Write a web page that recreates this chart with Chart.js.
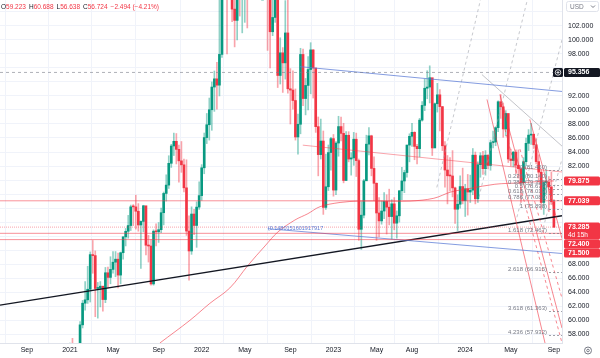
<!DOCTYPE html>
<html>
<head>
<meta charset="utf-8">
<script src="https://cdn.jsdelivr.net/npm/chart.js@4.4.1/dist/chart.umd.min.js"></script>
<style>
  html, body { margin: 0; padding: 0; background: #fff; }
  #wrap { width: 600px; height: 358px; }
</style>
</head>
<body>
<div id="wrap"><canvas id="chart" width="600" height="358"></canvas></div>
<script>
// Weekly candles, week 0 = first week of Jan 2021
const firstOpen = 51.8;
const closes = [
  55.99, 55.10, 55.41, 55.88, 59.34, 62.43, 62.91, 64.42, 69.36, 69.22, 64.53, 64.57, 64.86,
  62.95, 66.77, 66.11, 67.25, 68.28, 68.71, 66.44, 69.63, 71.89, 72.69, 73.51, 76.18, 76.17,
  75.55, 73.59, 74.10, 76.33, 70.70, 70.59, 65.18, 72.70, 72.61, 72.92, 75.34, 78.09, 79.28,
  82.39, 84.86, 85.53, 84.38, 82.74, 82.17, 78.89, 72.72, 69.88, 75.15, 73.52, 76.14, 77.78,
  81.75, 86.06, 87.89, 90.03, 93.27, 94.44, 93.54, 97.93, 118.11, 112.67, 107.93, 120.65, 104.39,
  102.78, 111.70, 106.65, 109.34, 112.39, 111.55, 112.55, 119.43, 119.72, 122.01, 113.12, 113.12,
  111.63, 106.49, 101.16, 103.20, 110.01, 94.92, 98.15, 96.72, 100.99, 93.02, 92.84, 91.35, 86.15,
  87.96, 97.92, 91.63, 93.50, 95.77, 98.57, 95.99, 87.62, 83.63, 85.57, 76.10, 79.04, 83.92, 85.91,
  78.57, 85.28, 87.63, 86.66, 79.94, 86.39, 83.00, 83.16, 85.83, 82.78, 72.97, 74.99, 79.89,
  85.12, 86.31, 81.66, 79.54, 75.30, 74.17, 75.58, 76.95, 76.13, 74.79, 76.61, 73.85, 74.90,
  78.47, 79.87, 81.07, 84.99, 86.24, 86.81, 84.80, 84.48, 88.55, 90.65, 93.10, 93.27, 94.60,
  84.58, 90.89, 92.16, 90.48, 84.89, 81.43, 80.61, 80.58, 78.88, 75.84, 76.55, 79.07, 77.04,
  78.76, 78.29, 78.56, 83.55, 77.33, 82.19, 83.47, 81.62, 83.55, 82.08, 85.34, 85.43, 87.48,
  91.17, 90.45, 87.29, 89.50, 83.00, 82.79, 83.98, 82.12, 81.62, 79.62, 82.62, 85.24, 86.41,
  86.54, 85.03, 82.63, 81.13, 76.81, 79.66, 79.68, 79.02, 76.93, 73.285
];
const highs = [
  56.75, 57.42, 56.68, 56.40, 59.79, 62.83, 65.52, 67.70, 69.75, 71.38, 69.89, 65.39, 65.52,
  64.50, 67.53, 67.60, 69.06, 69.78, 69.80, 69.57, 69.73, 71.95, 73.09, 74.96, 76.43, 76.50,
  77.84, 76.64, 74.18, 76.40, 75.47, 72.11, 71.52, 72.90, 73.76, 73.94, 76.00, 78.29, 80.75,
  83.47, 85.10, 86.70, 86.64, 85.00, 85.50, 83.00, 82.89, 74.90, 76.18, 75.82, 76.89, 79.76,
  82.20, 86.71, 89.50, 91.70, 94.00, 95.56, 96.78, 105.79, 119.84, 139.13, 111.00, 122.00, 121.00,
  108.50, 112.00, 114.80, 109.40, 114.00, 112.50, 114.90, 120.20, 124.00, 124.00, 125.20, 115.60,
  118.60, 114.00, 107.80, 108.70, 110.80, 111.00, 100.30, 98.90, 105.60, 105.90, 95.90, 95.60, 93.00,
  89.40, 98.80, 98.70, 94.50, 97.60, 99.60, 98.60, 95.60, 89.00, 88.70, 87.00, 83.70, 85.00, 86.10,
  86.50, 85.50, 89.10, 89.00, 88.10, 86.90, 86.90, 83.90, 86.80, 86.70, 83.00, 76.90, 80.10,
  86.40, 87.50, 86.40, 83.30, 79.60, 77.50, 77.00, 78.20, 77.90, 78.70, 77.20, 77.50, 75.60,
  78.50, 81.80, 81.40, 85.00, 86.60, 88.10, 86.90, 85.10, 88.80, 91.20, 94.40, 95.60, 96.30,
  92.30, 91.00, 93.80, 92.90, 90.50, 85.50, 83.50, 83.20, 84.20, 79.00, 77.90, 80.60, 81.70,
  79.40, 80.80, 80.70, 84.50, 84.00, 82.60, 83.90, 84.10, 84.20, 83.60, 85.70, 87.00, 87.60,
  91.30, 92.20, 91.00, 89.90, 89.00, 84.40, 84.10, 84.30, 84.30, 81.40, 83.20, 86.00, 87.20,
  88.10, 86.50, 85.90, 83.60, 81.50, 79.80, 81.50, 80.50, 81.10, 77.20
];
const lows = [
  50.40, 54.30, 54.35, 54.40, 55.25, 58.90, 61.45, 62.40, 62.60, 66.70, 60.50, 60.30, 61.90,
  61.30, 62.50, 64.60, 65.20, 66.70, 66.20, 64.60, 65.20, 68.70, 70.60, 71.70, 72.80, 73.50,
  73.00, 72.70, 67.40, 72.60, 69.30, 68.30, 65.00, 65.00, 70.60, 71.10, 72.50, 73.60, 77.00,
  78.80, 81.80, 83.50, 82.30, 79.70, 81.10, 78.30, 72.10, 65.70, 69.40, 72.20, 70.40, 75.80,
  77.10, 80.90, 85.20, 85.70, 87.10, 89.80, 90.10, 92.00, 97.50, 107.00, 98.00, 108.00, 102.60,
  99.00, 100.00, 103.40, 101.00, 102.50, 101.70, 107.40, 110.60, 115.60, 117.50, 110.80, 107.00,
  109.00, 98.50, 96.00, 100.60, 102.50, 93.20, 93.70, 92.50, 94.40, 92.40, 88.00, 90.10, 85.70,
  83.70, 86.60, 90.60, 89.30, 90.00, 92.30, 91.70, 86.80, 80.60, 83.00, 75.10, 75.80, 78.50, 81.40,
  77.70, 77.90, 83.40, 85.60, 79.60, 79.90, 82.60, 80.70, 82.10, 80.50, 71.40, 70.10, 74.60,
  80.00, 83.60, 80.60, 77.10, 71.40, 71.90, 73.70, 74.50, 72.30, 73.60, 71.60, 72.90, 71.70,
  74.00, 77.20, 78.20, 80.40, 82.60, 84.80, 82.90, 82.30, 83.30, 88.40, 89.90, 91.60, 91.00,
  83.50, 84.70, 89.70, 87.00, 84.20, 79.00, 76.60, 78.40, 77.60, 73.80, 72.80, 76.00, 76.60,
  74.80, 75.00, 76.80, 77.90, 76.60, 76.80, 80.40, 80.80, 80.70, 81.60, 81.40, 84.60, 84.90,
  86.90, 88.80, 86.10, 86.30, 82.50, 82.00, 81.90, 80.90, 80.60, 76.80, 79.30, 82.10, 84.20,
  85.10, 84.50, 82.30, 79.70, 75.80, 75.10, 77.90, 75.50, 76.50, 73.20
];

// Axis labels
const monthWeeks = [-17, 0, 17, 35, 52, 69, 87, 104, 121, 135, 156, 174, 191];
const monthLabels = ['Sep', '2021', 'May', 'Sep', '2022', 'May', 'Sep', '2023', 'May', 'Aug', '2024', 'May', 'Sep'];
const priceTicks = [58, 60, 62, 64, 66, 68, 70, 72, 74, 76, 78, 80, 82, 84, 86, 88, 90, 92, 94, 96, 98, 100, 102, 104];

// Moving average
const maWeeks = [35.5, 47.4, 55.2, 63.1, 70.2, 77, 82.1, 88.8, 93.9, 98.7, 106.6, 114.4, 124.7, 134.2, 143.6, 150.4, 157.9, 167.7, 177.6, 185.5, 191];
const maValues = [56.75, 60.0, 62.4, 64.6, 67.8, 70.6, 72.6, 74.3, 75.2, 76.2, 76.8, 77.0, 77.0, 77.0, 77.4, 78.3, 78.8, 79.4, 79.6, 79.8, 79.875];

// Drawings: [week1, price1, week2, price2]
const blackTrend = [-27.6, 62.14, 194.2, 74.91];
const blueUpper = [90.8, 96.18, 194.2, 92.64];
const blueLower = [78.1, 73.06, 194.2, 69.52];
const softRedTrend = [91.9, 84.98, 194.2, 81.15];
const grayTrend = [162.6, 95.05, 194.2, 84.84];
const redRays = [
  [169.7, 92.21, 194.2, 58.88],
  [181.5, 88.67, 194.2, 71.65],
  [164.6, 91.50, 187.5, 56.75]
];
const redDashedRays = [
  [171.7, 87.25, 194.2, 56.75],
  [177.6, 84.41, 194.2, 63.13]
];
const grayDashedRays = [
  [144.8, 78.95, 162.0, 105.69],
  [161.4, 77.53, 180.5, 105.69],
  [176.4, 74.69, 194.2, 100.0],
  [185.5, 71.5, 194.2, 83.0]
];

// Horizontal levels
const redLevels = [77.039, 72.4, 71.5];
const lastPrice = 73.285;
const markedHigh = 95.356;

// Fibonacci extension
const fibRatios = ['0', '0.236', '0.382', '0.5', '0.618', '0.786', '1', '1.618', '2.618', '3.618', '4.236'];
const fibPrices = [81.450, 80.140, 79.329, 78.674, 78.019, 77.085, 75.898, 72.467, 66.915, 61.363, 57.932];

// Right-axis price tags
const tagValues = [95.356, 79.875, 77.039, 73.285, 72.400, 71.500];

const header = [['O', '59.223'], ['H', '60.688'], ['L', '56.638'], ['C', '56.724'], ['', '\u22122.494 (\u22124.21%)']];

const UP = '#089981', DOWN = '#f23645';
const X_MIN = -27.6, X_MAX = 194.2, Y_MIN = 56.75, Y_MAX = 105.69;
const FONT = '"Liberation Sans", Arial, sans-serif';

const opens = closes.map((c, i) => i === 0 ? firstOpen : closes[i - 1]);
const isUp = closes.map((c, i) => c >= opens[i]);

function seg(p, color, width, dash) {
  return {
    type: 'line',
    data: [{ x: p[0], y: p[1] }, { x: p[2], y: p[3] }],
    borderColor: color, borderWidth: width, borderDash: dash || [],
    pointRadius: 0, fill: false, order: 0
  };
}
const flat = v => [X_MIN, v, X_MAX, v];

const datasets = [
  {
    type: 'bar', label: 'wick', order: 5, grouped: false,
    data: closes.map((c, i) => ({ x: i, y: [lows[i], highs[i]] })),
    backgroundColor: isUp.map(u => u ? 'rgba(8,153,129,0.45)' : 'rgba(242,54,69,0.45)'),
    barThickness: 1
  },
  {
    type: 'bar', label: 'body', order: 4, grouped: false,
    data: closes.map((c, i) => ({ x: i, y: [opens[i], c] })),
    backgroundColor: isUp.map(u => u ? UP : DOWN),
    barThickness: 2, minBarLength: 1
  },
  {
    type: 'line', label: 'ma', order: 3,
    data: maWeeks.map((w, i) => ({ x: w, y: maValues[i] })),
    borderColor: 'rgba(242,54,69,0.6)', borderWidth: 1, pointRadius: 0, tension: 0.35
  },
  seg(flat(markedHigh), 'rgba(120,123,134,0.6)', 1, [3, 3]),
  ...redLevels.map(v => seg(flat(v), 'rgba(242,54,69,0.55)', 1)),
  seg(flat(lastPrice), 'rgba(242,54,69,0.45)', 1, [1, 1]),
  seg(blueUpper, 'rgba(91,123,213,0.75)', 1),
  seg(blueLower, 'rgba(91,123,213,0.75)', 1),
  seg(softRedTrend, 'rgba(242,54,69,0.45)', 1),
  seg(grayTrend, 'rgba(120,123,134,0.45)', 1),
  ...redRays.map(r => seg(r, 'rgba(242,54,69,0.6)', 1)),
  ...redDashedRays.map(r => seg(r, 'rgba(242,54,69,0.6)', 1, [3, 3])),
  ...grayDashedRays.map(r => seg(r, 'rgba(160,163,172,0.6)', 1, [3, 3])),
  seg(blackTrend, '#131722', 1.3)
];

function roundRect(ctx, x, y, w, h, r) {
  ctx.beginPath();
  ctx.moveTo(x + r, y);
  ctx.arcTo(x + w, y, x + w, y + h, r);
  ctx.arcTo(x + w, y + h, x, y + h, r);
  ctx.arcTo(x, y + h, x, y, r);
  ctx.arcTo(x, y, x + w, y, r);
  ctx.closePath();
}

const overlay = {
  id: 'overlay',
  afterDraw(chart) {
    const { ctx, chartArea: a, scales: { x, y } } = chart;
    ctx.save();

    // fib extension labels and level stubs
    ctx.font = '6px ' + FONT;
    ctx.textAlign = 'right';
    ctx.textBaseline = 'alphabetic';
    fibPrices.forEach((p, i) => {
      const py = Math.round(y.getPixelForValue(p)) + 0.5;
      ctx.strokeStyle = 'rgba(120,123,134,0.7)';
      ctx.setLineDash([2, 2]);
      ctx.beginPath();
      ctx.moveTo(549, py); ctx.lineTo(a.right, py);
      ctx.stroke();
      ctx.fillStyle = '#787b86';
      ctx.fillText(fibRatios[i] + ' (' + p.toFixed(3) + ')', 547, py - 1.5);
    });
    ctx.setLineDash([]);

    // ratio note on the lower blue line
    ctx.fillStyle = '#5b7bd5';
    ctx.textAlign = 'left';
    ctx.font = '5.5px ' + FONT;
    ctx.fillText('(0.1480151601917917', x.getPixelForValue(blueLower[0]), y.getPixelForValue(blueLower[1]) + 1);

    // OHLC header
    ctx.font = '6.5px ' + FONT;
    let hx = 1;
    header.forEach(([k, v]) => {
      ctx.fillStyle = '#131722';
      ctx.fillText(k, hx, 9);
      hx += ctx.measureText(k).width;
      ctx.fillStyle = DOWN;
      ctx.fillText(v, hx, 9);
      hx += ctx.measureText(v).width + 3;
    });

    // price tags, stacked so they do not overlap
    let prevBottom = -Infinity;
    const tags = tagValues.map(v => {
      const py = y.getPixelForValue(v);
      const h = v === lastPrice ? 17 : 9;
      const top = Math.max(py - 4.5, prevBottom);
      prevBottom = top + h;
      return { v, top, h };
    });

    // price axis labels
    ctx.font = '7px ' + FONT;
    ctx.textBaseline = 'middle';
    ctx.fillStyle = '#131722';
    priceTicks.forEach(t => {
      const py = y.getPixelForValue(t);
      if (py < 16 || py > a.bottom) return;
      if (tags.some(g => py > g.top - 6 && py < g.top + g.h + 6)) return;
      ctx.fillText(t.toFixed(3), a.right + 6, py);
    });

    // time axis labels
    ctx.textAlign = 'center';
    monthWeeks.forEach((w, i) => {
      ctx.fillText(monthLabels[i], x.getPixelForValue(w), a.bottom + 7.5);
    });

    ctx.textAlign = 'left';
    tags.forEach((g, i) => {
      ctx.fillStyle = i === 0 ? '#131722' : DOWN;
      roundRect(ctx, a.right + 2, g.top, 36, g.h, 1.5);
      ctx.fill();
      ctx.fillStyle = '#fff';
      ctx.font = 'bold 7px ' + FONT;
      ctx.fillText(g.v.toFixed(3), a.right + 6, g.top + 4.5);
      if (g.v === lastPrice) {
        ctx.font = '6.5px ' + FONT;
        ctx.fillText('4d 15h', a.right + 6, g.top + 12.5);
      }
    });
    // plus button next to the marked high
    const hy = y.getPixelForValue(markedHigh);
    ctx.fillStyle = '#131722';
    roundRect(ctx, a.right - 9, hy - 4.5, 10, 9, 1.5);
    ctx.fill();
    ctx.strokeStyle = '#fff';
    ctx.lineWidth = 0.8;
    ctx.beginPath();
    ctx.arc(a.right - 4, hy, 2.8, 0, Math.PI * 2);
    ctx.moveTo(a.right - 5.6, hy); ctx.lineTo(a.right - 2.4, hy);
    ctx.moveTo(a.right - 4, hy - 1.6); ctx.lineTo(a.right - 4, hy + 1.6);
    ctx.stroke();

    // currency selector
    ctx.strokeStyle = '#e0e3eb';
    ctx.lineWidth = 1;
    roundRect(ctx, a.right + 4.5, 1.5, 32, 10, 2);
    ctx.stroke();
    ctx.fillStyle = '#787b86';
    ctx.font = '6.5px ' + FONT;
    ctx.fillText('USD', a.right + 8, 7);
    ctx.strokeStyle = '#787b86';
    ctx.beginPath();
    ctx.moveTo(a.right + 29, 5.5); ctx.lineTo(a.right + 31, 7.5); ctx.lineTo(a.right + 33, 5.5);
    ctx.stroke();

    // settings gear
    ctx.strokeStyle = '#787b86';
    ctx.beginPath();
    ctx.arc(a.right + 26, a.bottom + 7.5, 3.5, 0, Math.PI * 2);
    ctx.stroke();
    ctx.beginPath();
    ctx.arc(a.right + 26, a.bottom + 7.5, 1.3, 0, Math.PI * 2);
    ctx.stroke();

    ctx.restore();
  }
};

new Chart(document.getElementById('chart'), {
  data: { datasets },
  options: {
    responsive: false,
    devicePixelRatio: 1,
    animation: false,
    layout: { padding: 0 },
    plugins: { legend: { display: false }, tooltip: { enabled: false } },
    scales: {
      x: {
        type: 'linear', position: 'bottom', min: X_MIN, max: X_MAX, offset: false,
        afterBuildTicks: s => { s.ticks = monthWeeks.map(v => ({ value: v })); },
        afterFit: s => { s.height = 15; },
        ticks: { display: false },
        grid: { color: '#f0f3fa', drawTicks: false },
        border: { color: '#e0e3eb' }
      },
      y: {
        type: 'linear', position: 'right', min: Y_MIN, max: Y_MAX,
        afterBuildTicks: s => { s.ticks = priceTicks.map(v => ({ value: v })); },
        afterFit: s => { s.width = 38; },
        ticks: { display: false },
        grid: { color: '#f0f3fa', drawTicks: false },
        border: { color: '#e0e3eb' }
      }
    }
  },
  plugins: [overlay]
});
</script>
</body>
</html>
